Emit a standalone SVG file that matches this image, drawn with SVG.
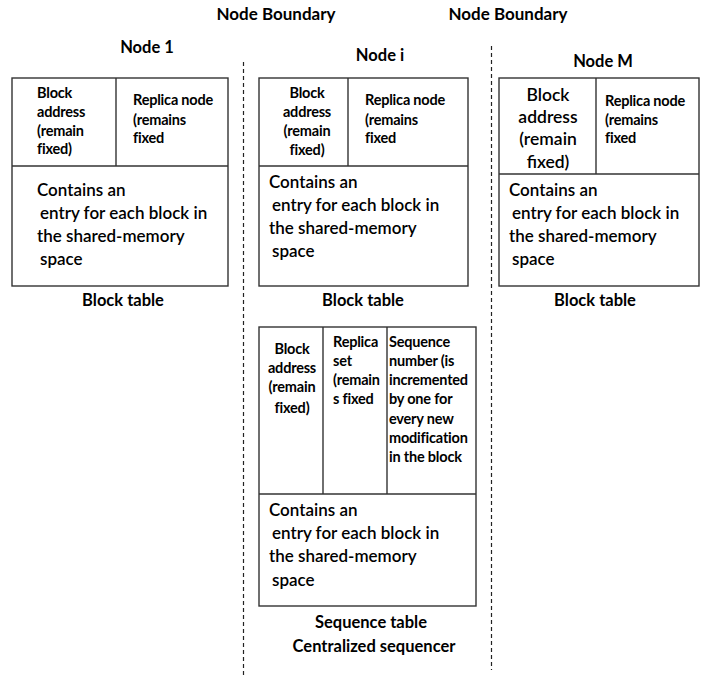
<svg xmlns="http://www.w3.org/2000/svg" width="710" height="699" viewBox="0 0 710 699">
<style>
.box{fill:#fff;stroke:#333;stroke-width:1.4}
.div{stroke:#333;stroke-width:1.4;fill:none}
.dash{stroke:#222;stroke-width:1.2;stroke-dasharray:4 3;fill:none}
text{font-family:Lato,"Open Sans","Liberation Sans",sans-serif;fill:#000}
.h{font-size:16.5px;font-weight:bold}
.nb{font-size:17px;font-weight:bold}
.b{font-size:17px;font-weight:600}
.s{font-size:14.5px;font-weight:bold;letter-spacing:-0.2px}
.m{font-size:17.5px;font-weight:600}
.c{text-anchor:middle}
</style>
<rect width="710" height="699" fill="#fff"/>
<g id="boundaries">
<line class="dash" x1="243.5" y1="62" x2="243.5" y2="676"/>
<line class="dash" x1="491.5" y1="46" x2="491.5" y2="670"/>
<text class="nb c" x="276" y="20">Node Boundary</text>
<text class="nb c" x="508" y="20">Node Boundary</text>
</g>
<g id="node1">
<text class="h c" x="147" y="53">Node 1</text>
<rect class="box" x="12" y="78" width="216" height="208"/>
<line class="div" x1="12" y1="166" x2="228" y2="166"/>
<line class="div" x1="116" y1="78" x2="116" y2="166"/>
<text class="s" x="37" y="98">Block</text>
<text class="s" x="37" y="117">address</text>
<text class="s" x="37" y="136">(remain</text>
<text class="s" x="37" y="154">fixed)</text>
<text class="s" x="133" y="105">Replica node</text>
<text class="s" x="133" y="125">(remains</text>
<text class="s" x="133" y="143">fixed</text>
<text class="b" x="37" y="196">Contains an</text>
<text class="b" x="40" y="219">entry for each block in</text>
<text class="b" x="37" y="242">the shared-memory</text>
<text class="b" x="40" y="265">space</text>
<text class="h c" x="123" y="306">Block table</text>
</g>
<g id="nodei">
<text class="h c" x="380" y="61">Node i</text>
<rect class="box" x="259" y="78" width="209" height="208"/>
<line class="div" x1="259" y1="166" x2="468" y2="166"/>
<line class="div" x1="348" y1="78" x2="348" y2="166"/>
<text class="s c" x="307" y="98">Block</text>
<text class="s c" x="307" y="117">address</text>
<text class="s c" x="307" y="136">(remain</text>
<text class="s c" x="307" y="155">fixed)</text>
<text class="s" x="365" y="105">Replica node</text>
<text class="s" x="365" y="125">(remains</text>
<text class="s" x="365" y="143">fixed</text>
<text class="b" x="269" y="188">Contains an</text>
<text class="b" x="272" y="211">entry for each block in</text>
<text class="b" x="269" y="234">the shared-memory</text>
<text class="b" x="272" y="257">space</text>
<text class="h c" x="363" y="306">Block table</text>
</g>
<g id="nodeM">
<text class="h c" x="603" y="67">Node M</text>
<rect class="box" x="499" y="78" width="200" height="208"/>
<line class="div" x1="499" y1="174" x2="699" y2="174"/>
<line class="div" x1="596" y1="78" x2="596" y2="174"/>
<text class="m c" x="548" y="101">Block</text>
<text class="m c" x="548" y="123">address</text>
<text class="m c" x="548" y="145">(remain</text>
<text class="m c" x="548" y="168">fixed)</text>
<text class="s" x="605" y="106">Replica node</text>
<text class="s" x="605" y="125">(remains</text>
<text class="s" x="605" y="143">fixed</text>
<text class="b" x="509" y="196">Contains an</text>
<text class="b" x="512" y="219">entry for each block in</text>
<text class="b" x="509" y="242">the shared-memory</text>
<text class="b" x="512" y="265">space</text>
<text class="h c" x="595" y="306">Block table</text>
</g>
<g id="sequencer">
<rect class="box" x="259" y="327" width="217" height="279"/>
<line class="div" x1="259" y1="494" x2="476" y2="494"/>
<line class="div" x1="323" y1="327" x2="323" y2="494"/>
<line class="div" x1="387" y1="327" x2="387" y2="494"/>
<text class="s c" x="292" y="354">Block</text>
<text class="s c" x="292" y="373">address</text>
<text class="s c" x="292" y="392">(remain</text>
<text class="s c" x="292" y="413">fixed)</text>
<text class="s" x="333" y="347">Replica</text>
<text class="s" x="333" y="366">set</text>
<text class="s" x="333" y="385">(remain</text>
<text class="s" x="333" y="404">s fixed</text>
<text class="s" x="389" y="347">Sequence</text>
<text class="s" x="389" y="366">number (is</text>
<text class="s" x="389" y="385">incremented</text>
<text class="s" x="389" y="404">by one  for</text>
<text class="s" x="389" y="424">every new</text>
<text class="s" x="389" y="443">modification</text>
<text class="s" x="389" y="462">in the block</text>
<text class="b" x="269" y="516">Contains an</text>
<text class="b" x="272" y="539">entry for each block in</text>
<text class="b" x="269" y="562">the shared-memory</text>
<text class="b" x="272" y="586">space</text>
<text class="h c" x="371" y="628">Sequence table</text>
<text class="h c" x="374" y="652">Centralized sequencer</text>
</g>
</svg>
